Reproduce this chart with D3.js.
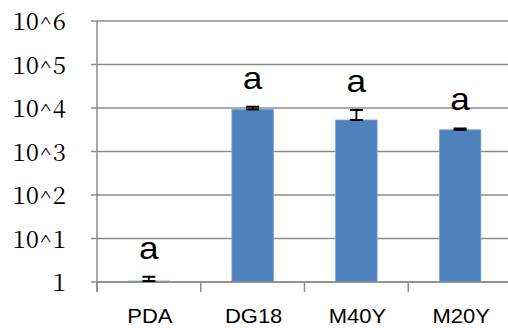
<!DOCTYPE html>
<html>
<head>
<meta charset="utf-8">
<script src="https://cdnjs.cloudflare.com/ajax/libs/d3/7.8.5/d3.min.js"></script>
<style>
  body { margin: 0; background: #fff; }
</style>
</head>
<body>
<div class="chart"></div>
<script>

var categories = ["PDA", "DG18", "M40Y", "M20Y"];
var means = [1.05, 9300, 5300, 3150];
var errUpper = [1.32, 10700, 9000, 3380];
var letters = ["a", "a", "a", "a"];
var tickValues = [1, 10, 100, 1000, 10000, 100000, 1000000];
var tickLabels = ["1", "10^1", "10^2", "10^3", "10^4", "10^5", "10^6"];

var width = 508, height = 328;
var stretch = 1.1;

var svg = d3.select(".chart").append("svg")
    .attr("width", width)
    .attr("height", height);

var y = d3.scaleLog()
    .domain([1, 1000000])
    .range([282, 21]);

var x = d3.scaleBand()
    .domain(categories)
    .range([97, 512])
    .paddingInner(0.6)
    .paddingOuter(0.3);

// gridlines
svg.append("g").selectAll("line")
    .data(tickValues)
    .enter().append("line")
    .attr("x1", 91)
    .attr("x2", width)
    .attr("y1", function(d) { return y(d); })
    .attr("y2", function(d) { return y(d); })
    .attr("stroke", "#8c8c8c")
    .attr("stroke-width", 1.5);

// y tick labels
svg.append("g").selectAll("text")
    .data(tickValues)
    .enter().append("text")
    .text(function(d, i) { return tickLabels[i]; })
    .attr("x", 66)
    .attr("y", function(d) { return y(d) + 9; })
    .attr("text-anchor", "end")
    .style("font-family", "'Noto Serif CJK JP', 'Liberation Serif', serif")
    .style("font-size", "24px")
    .style("fill", "#000");

// bars
svg.append("g").selectAll("rect")
    .data(categories)
    .enter().append("rect")
    .attr("x", function(d) { return x(d); })
    .attr("width", x.bandwidth())
    .attr("y", function(d, i) { return y(means[i]); })
    .attr("height", function(d, i) { return Math.max(1, y(1) - y(means[i])); })
    .attr("fill", "#4f81bd")
    .attr("stroke", "#7fa3d0")
    .attr("stroke-width", 0.8);

// axes lines
svg.append("line")
    .attr("x1", 97).attr("x2", 97)
    .attr("y1", y(1000000)).attr("y2", 292)
    .attr("stroke", "#8c8c8c").attr("stroke-width", 1.5);

svg.append("line")
    .attr("x1", 97).attr("x2", width)
    .attr("y1", y(1)).attr("y2", y(1))
    .attr("stroke", "#8c8c8c").attr("stroke-width", 1.5);

svg.append("g").selectAll("line")
    .data(categories)
    .enter().append("line")
    .attr("x1", function(d) { return x(d) - x.bandwidth() * 0.75; })
    .attr("x2", function(d) { return x(d) - x.bandwidth() * 0.75; })
    .attr("y1", y(1))
    .attr("y2", 292)
    .attr("stroke", "#8c8c8c")
    .attr("stroke-width", 1.5);

// error bars
var err = svg.append("g");
categories.forEach(function(c, i) {
  var cx = x(c) + x.bandwidth() / 2;
  var top = y(errUpper[i]);
  var bot = y(means[i]);
  err.append("line")
      .attr("x1", cx).attr("x2", cx)
      .attr("y1", top).attr("y2", bot)
      .attr("stroke", "#000").attr("stroke-width", 1.8);
  err.append("line")
      .attr("x1", cx - 6.5).attr("x2", cx + 6.5)
      .attr("y1", top).attr("y2", top)
      .attr("stroke", "#000").attr("stroke-width", 2);
  err.append("line")
      .attr("x1", cx - 6.5).attr("x2", cx + 6.5)
      .attr("y1", bot).attr("y2", bot)
      .attr("stroke", "#000").attr("stroke-width", 2);
});

// significance letters
svg.append("g").selectAll("text")
    .data(categories)
    .enter().append("text")
    .text(function(d, i) { return letters[i]; })
    .attr("transform", function(d, i) {
      return "translate(" + (x(d) + x.bandwidth() / 2) + "," + (y(errUpper[i]) - 18) + ") scale(" + stretch + ",1)";
    })
    .attr("text-anchor", "middle")
    .style("font-family", "'Liberation Sans', Arial, sans-serif")
    .style("font-size", "32px")
    .style("fill", "#000");

// category labels
svg.append("g").selectAll("text")
    .data(categories)
    .enter().append("text")
    .text(function(d) { return d; })
    .attr("transform", function(d) { return "translate(" + (x(d) + x.bandwidth() / 2 + 1) + ",323) scale(" + stretch + ",1)"; })
    .attr("text-anchor", "middle")
    .style("font-family", "'Liberation Sans', Arial, sans-serif")
    .style("font-size", "20px")
    .style("fill", "#000");

</script>
</body>
</html>
